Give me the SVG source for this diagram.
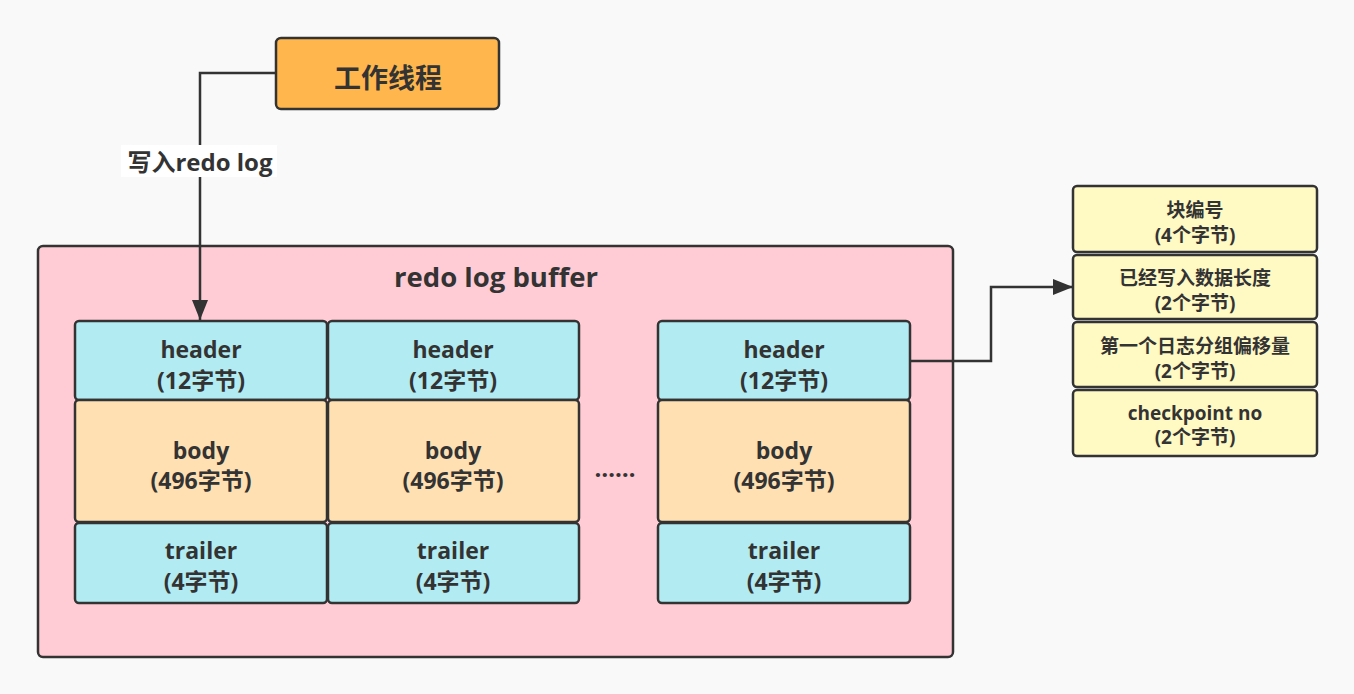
<svg xmlns="http://www.w3.org/2000/svg" width="1354" height="694" viewBox="0 0 1354 694">
<defs>
<marker id="arr" viewBox="0 0 20 16" refX="20" refY="8" markerWidth="20" markerHeight="16" markerUnits="userSpaceOnUse" orient="auto">
<path d="M0,0 L20,8 L0,16 Z" fill="#333333"/>
</marker>
<style>
.t{font-family:"Open Sans","Noto Sans CJK SC",sans-serif;font-weight:bold;fill:#333333;text-anchor:middle}
.m{font-size:23px}
.s{font-size:19px}
.b{stroke:#333333;stroke-width:2.5}
.hd{fill:#B2EBF2}
.bd{fill:#FFE0B2}
.yl{fill:#FFF9C4}
.c{fill:none;stroke:#333333;stroke-width:2.5}
</style>
</defs>
<rect width="1354" height="694" fill="#F9F9F9"/>

<g id="buffer">
<rect class="b" x="38" y="246" width="915" height="411" rx="5" fill="#FFCCD5"/>
<text class="t" x="496" y="287" font-size="27.5">redo log buffer</text>
</g>

<g id="worker">
<rect class="b" x="276" y="38" width="223" height="71" rx="5" fill="#FFB74D"/>
<text class="t" x="388" y="88" font-size="27">工作线程</text>
</g>

<g id="block1">
<rect class="b hd" x="75" y="321" width="252" height="79" rx="4"/>
<text class="t m" x="201" y="358">header</text>
<text class="t m" x="201" y="389">(12字节)</text>
<rect class="b bd" x="75" y="400" width="252" height="122" rx="4"/>
<text class="t m" x="201" y="459">body</text>
<text class="t m" x="201" y="489">(496字节)</text>
<rect class="b hd" x="75" y="523" width="252" height="80" rx="4"/>
<text class="t m" x="201" y="559">trailer</text>
<text class="t m" x="201" y="590">(4字节)</text>
</g>

<g id="block2">
<rect class="b hd" x="328" y="321" width="251" height="79" rx="4"/>
<text class="t m" x="453" y="358">header</text>
<text class="t m" x="453" y="389">(12字节)</text>
<rect class="b bd" x="328" y="400" width="251" height="122" rx="4"/>
<text class="t m" x="453" y="459">body</text>
<text class="t m" x="453" y="489">(496字节)</text>
<rect class="b hd" x="328" y="523" width="251" height="80" rx="4"/>
<text class="t m" x="453" y="559">trailer</text>
<text class="t m" x="453" y="590">(4字节)</text>
</g>

<g id="ellipsis">
<text class="t" x="615" y="477" font-size="24">……</text>
</g>

<g id="block3">
<rect class="b hd" x="658" y="321" width="252" height="79" rx="4"/>
<text class="t m" x="784" y="358">header</text>
<text class="t m" x="784" y="389">(12字节)</text>
<rect class="b bd" x="658" y="400" width="252" height="122" rx="4"/>
<text class="t m" x="784" y="459">body</text>
<text class="t m" x="784" y="489">(496字节)</text>
<rect class="b hd" x="658" y="523" width="252" height="80" rx="4"/>
<text class="t m" x="784" y="559">trailer</text>
<text class="t m" x="784" y="590">(4字节)</text>
</g>

<g id="header-detail">
<rect class="b yl" x="1073" y="186" width="244" height="66" rx="4"/>
<text class="t s" x="1195" y="217">块编号</text>
<text class="t s" x="1195" y="242">(4个字节)</text>
<rect class="b yl" x="1073" y="255" width="244" height="64" rx="4"/>
<text class="t s" x="1195" y="285">已经写入数据长度</text>
<text class="t s" x="1195" y="310">(2个字节)</text>
<rect class="b yl" x="1073" y="322" width="244" height="65" rx="4"/>
<text class="t s" x="1195" y="353">第一个日志分组偏移量</text>
<text class="t s" x="1195" y="378">(2个字节)</text>
<rect class="b yl" x="1073" y="390" width="244" height="66" rx="4"/>
<text class="t s" x="1195" y="420">checkpoint no</text>
<text class="t s" x="1195" y="444">(2个字节)</text>
</g>

<g id="connectors">
<path class="c" d="M276,73 H200 V320" marker-end="url(#arr)"/>
<rect x="121" y="145" width="156" height="32" fill="#FFFFFF"/>
<text class="t" x="200" y="171" font-size="24">写入redo log</text>
<path class="c" d="M910,361 H991 V287 H1073" marker-end="url(#arr)"/>
</g>
</svg>
